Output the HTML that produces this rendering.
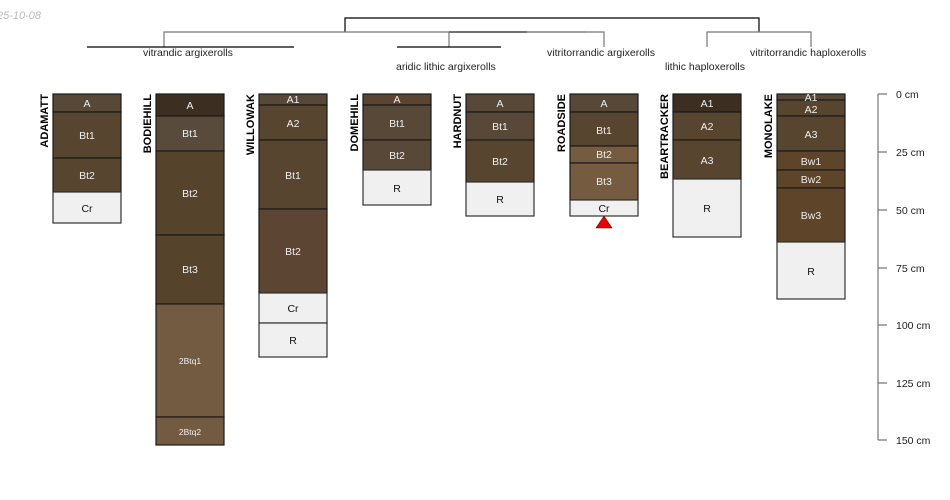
<!DOCTYPE html>
<html><head><meta charset="utf-8"><style>
html,body{margin:0;padding:0;background:#fff;}
svg{display:block;font-family:"Liberation Sans",sans-serif;}
.h{stroke:#1a1a1a;stroke-width:1.2;}
.t{font-size:10.5px;text-anchor:middle;fill:#eee;}
.k{font-size:10.5px;text-anchor:middle;fill:#111;}
.n{font-size:11px;font-weight:bold;fill:#000;text-anchor:end;}
.c{font-size:10.5px;fill:#222;}
</style></head><body>
<svg width="950" height="500" viewBox="0 0 950 500">
<text x="-3" y="19" font-size="11" font-style="italic" fill="#bbb">25-10-08</text>
<!-- dendrogram -->
<g fill="none" stroke-width="1.2">
<path d="M345 32V18H759V32" stroke="#000"/>
<path d="M164 47V32H586" stroke="#777"/>
<path d="M449 32H527" stroke="#333"/>
<path d="M527 32H604V47" stroke="#777"/>
<path d="M449 32V47" stroke="#777"/>
<path d="M87 47H294" stroke="#000"/>
<path d="M397 47H501" stroke="#000"/>
<path d="M707 47V32H811V47" stroke="#777"/>
</g>
<g class="c">
<text x="143" y="56">vitrandic argixerolls</text>
<text x="396" y="70">aridic lithic argixerolls</text>
<text x="547" y="56">vitritorrandic argixerolls</text>
<text x="665" y="70">lithic haploxerolls</text>
<text x="750" y="56">vitritorrandic haploxerolls</text>
</g>
<!-- names -->
<g class="n">
<text transform="translate(48,94) rotate(-90)">ADAMATT</text>
<text transform="translate(151,94) rotate(-90)">BODIEHILL</text>
<text transform="translate(254,94) rotate(-90)">WILLOWAK</text>
<text transform="translate(358,94) rotate(-90)">DOMEHILL</text>
<text transform="translate(461,94) rotate(-90)">HARDNUT</text>
<text transform="translate(565,94) rotate(-90)">ROADSIDE</text>
<text transform="translate(668,94) rotate(-90)">BEARTRACKER</text>
<text transform="translate(772,94) rotate(-90)">MONOLAKE</text>
</g>
<g class="h">
<!-- ADAMATT -->
<rect x="53" y="94" width="68" height="18" fill="#574838"/>
<rect x="53" y="112" width="68" height="46" fill="#584530"/>
<rect x="53" y="158" width="68" height="34" fill="#584530"/>
<rect x="53" y="192" width="68" height="31" fill="#f0f0f0" stroke="#333"/>
<!-- BODIEHILL -->
<rect x="156" y="94" width="68" height="22" fill="#3c2e20"/>
<rect x="156" y="116" width="68" height="35" fill="#594b3c"/>
<rect x="156" y="151" width="68" height="84" fill="#55432c"/>
<rect x="156" y="235" width="68" height="69" fill="#55432c"/>
<rect x="156" y="304" width="68" height="113" fill="#735b41"/>
<rect x="156" y="417" width="68" height="28" fill="#735b41"/>
<!-- WILLOWAK -->
<rect x="259" y="94" width="68" height="11" fill="#574838"/>
<rect x="259" y="105" width="68" height="35" fill="#584530"/>
<rect x="259" y="140" width="68" height="69" fill="#584530"/>
<rect x="259" y="209" width="68" height="84" fill="#5d4534"/>
<rect x="259" y="293" width="68" height="30" fill="#f0f0f0" stroke="#333"/>
<rect x="259" y="323" width="68" height="34" fill="#f0f0f0" stroke="#333"/>
<!-- DOMEHILL -->
<rect x="363" y="94" width="68" height="11" fill="#5b4530"/>
<rect x="363" y="105" width="68" height="35" fill="#574838"/>
<rect x="363" y="140" width="68" height="30" fill="#574838"/>
<rect x="363" y="170" width="68" height="35" fill="#f0f0f0" stroke="#333"/>
<!-- HARDNUT -->
<rect x="466" y="94" width="68" height="18" fill="#574838"/>
<rect x="466" y="112" width="68" height="28" fill="#574838"/>
<rect x="466" y="140" width="68" height="42" fill="#584530"/>
<rect x="466" y="182" width="68" height="34" fill="#f0f0f0" stroke="#333"/>
<!-- ROADSIDE -->
<rect x="570" y="94" width="68" height="18" fill="#574838"/>
<rect x="570" y="112" width="68" height="34" fill="#584530"/>
<rect x="570" y="146" width="68" height="17" fill="#755c40"/>
<rect x="570" y="163" width="68" height="37" fill="#755c40"/>
<rect x="570" y="200" width="68" height="16" fill="#f0f0f0" stroke="#333"/>
<!-- BEARTRACKER -->
<rect x="673" y="94" width="68" height="18" fill="#3c2e20"/>
<rect x="673" y="112" width="68" height="28" fill="#584530"/>
<rect x="673" y="140" width="68" height="39" fill="#584530"/>
<rect x="673" y="179" width="68" height="58" fill="#f0f0f0" stroke="#333"/>
<!-- MONOLAKE -->
<rect x="777" y="94" width="68" height="6" fill="#574838"/>
<rect x="777" y="100" width="68" height="16" fill="#584530"/>
<rect x="777" y="116" width="68" height="35" fill="#584530"/>
<rect x="777" y="151" width="68" height="19" fill="#5e4428"/>
<rect x="777" y="170" width="68" height="18" fill="#5e4428"/>
<rect x="777" y="188" width="68" height="54" fill="#5e4428"/>
<rect x="777" y="242" width="68" height="57" fill="#f0f0f0" stroke="#333"/>
</g>
<polygon points="604,216 596,228 612,228" fill="#e00" stroke="#600" stroke-width="0.6"/>
<!-- labels -->
<g class="t">
<text x="87" y="107">A</text><text x="87" y="139">Bt1</text><text x="87" y="179">Bt2</text>
<text x="190" y="109">A</text><text x="190" y="137">Bt1</text><text x="190" y="197">Bt2</text><text x="190" y="273">Bt3</text>
<text x="190" y="364" font-size="8.5">2Btq1</text><text x="190" y="435" font-size="8.5">2Btq2</text>
<text x="293" y="103">A1</text><text x="293" y="127">A2</text><text x="293" y="179">Bt1</text><text x="293" y="255">Bt2</text>
<text x="397" y="103">A</text><text x="397" y="127">Bt1</text><text x="397" y="159">Bt2</text>
<text x="500" y="107">A</text><text x="500" y="130">Bt1</text><text x="500" y="165">Bt2</text>
<text x="604" y="107">A</text><text x="604" y="134">Bt1</text><text x="604" y="158">Bt2</text><text x="604" y="185">Bt3</text>
<text x="707" y="107">A1</text><text x="707" y="130">A2</text><text x="707" y="164">A3</text>
<text x="811" y="101">A1</text><text x="811" y="113">A2</text><text x="811" y="138">A3</text>
<text x="811" y="165">Bw1</text><text x="811" y="183">Bw2</text><text x="811" y="219">Bw3</text>
</g>
<g class="k">
<text x="87" y="212">Cr</text><text x="293" y="312">Cr</text><text x="293" y="344">R</text>
<text x="397" y="192">R</text><text x="500" y="203">R</text><text x="604" y="212">Cr</text>
<text x="707" y="212">R</text><text x="811" y="275">R</text>
</g>
<!-- axis -->
<g stroke="#777" stroke-width="1.2" fill="none">
<path d="M878 94V440"/>
<path d="M878 94H887M878 152H887M878 210H887M878 268H887M878 325H887M878 383H887M878 440H887"/>
</g>
<g class="c" font-size="11">
<text x="896" y="98">0 cm</text><text x="896" y="156">25 cm</text><text x="896" y="214">50 cm</text>
<text x="896" y="272">75 cm</text><text x="896" y="329">100 cm</text><text x="896" y="387">125 cm</text><text x="896" y="444">150 cm</text>
</g>
</svg>
</body></html>
